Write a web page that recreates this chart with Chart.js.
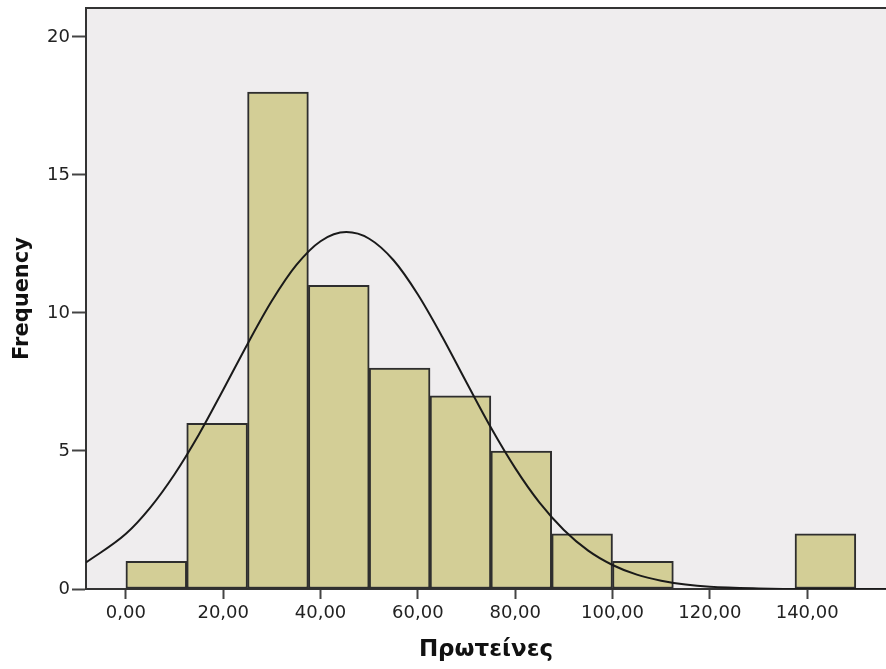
<!DOCTYPE html>
<html>
<head>
<meta charset="utf-8">
<script src="https://cdn.jsdelivr.net/npm/chart.js@4.4.1/dist/chart.umd.min.js"></script>
<style>
    html, body { margin: 0; padding: 0; background: #ffffff; }
    #wrap { width: 886px; height: 669px; }
</style>
</head>
<body>
<div id="wrap"><canvas id="hist"></canvas></div>
<script>
// histogram bins (Πρωτείνες), width 12.5
const binCenters = [6.25, 18.75, 31.25, 43.75, 56.25, 68.75, 81.25, 93.75, 106.25, 118.75, 131.25, 143.75];
const binCounts = [1, 6, 18, 11, 8, 7, 5, 2, 1, 0, 0, 2];

// normal curve
const curveX = [-8.2, 0, 5, 10, 15, 20, 25, 30, 35, 40, 45.3, 50, 55, 60, 65, 70, 75, 80, 85, 90, 95, 100, 105, 110, 115, 120, 130, 140, 156.2];
const curveY = [0.96, 2.0, 2.95, 4.16, 5.6, 7.22, 8.88, 10.44, 11.73, 12.6, 12.93, 12.69, 11.91, 10.67, 9.14, 7.48, 5.85, 4.38, 3.13, 2.14, 1.39, 0.87, 0.52, 0.3, 0.16, 0.08, 0.02, 0.0, 0.0];

// axis ticks
const xTicks = [0, 20, 40, 60, 80, 100, 120, 140];
const yTicks = [0, 5, 10, 15, 20];

Chart.defaults.font.family = "'DejaVu Sans', Verdana, sans-serif";

const plotBackground = {
    id: "plotBackground",
    beforeDraw(chart) {
        const ctx = chart.ctx;
        const a = chart.chartArea;
        ctx.save();
        ctx.fillStyle = "#ffffff";
        ctx.fillRect(0, 0, chart.width, chart.height);
        ctx.fillStyle = "#efedee";
        ctx.fillRect(a.left, a.top, a.right - a.left, a.bottom - a.top);
        ctx.restore();
    },
    afterDraw(chart) {
        // top frame line
        const ctx = chart.ctx;
        const a = chart.chartArea;
        ctx.save();
        ctx.strokeStyle = "#333333";
        ctx.lineWidth = 2;
        ctx.beginPath();
        ctx.moveTo(a.left - 1, a.top);
        ctx.lineTo(a.right, a.top);
        ctx.stroke();
        ctx.restore();
    },
};

const fmt = (v) => v.toFixed(2).replace(".", ",");

const ctx = document.getElementById("hist").getContext("2d");
const chart = new Chart(ctx, {
    type: "bar",
    data: {
        datasets: [
            {
                type: "line",
                data: curveX.map((x, i) => ({ x: x, y: curveY[i] })),
                borderColor: "#1a1a1a",
                borderWidth: 2,
                pointRadius: 0,
                fill: false,
                cubicInterpolationMode: "monotone",
                order: 0,
            },
            {
                type: "bar",
                data: binCenters.map((x, i) => ({ x: x, y: binCounts[i] })),
                backgroundColor: "#d3ce96",
                borderColor: "#2e2e2e",
                borderWidth: 2,
                borderSkipped: false,
                barPercentage: 1,
                categoryPercentage: 1,
                order: 1,
            },
        ],
    },
    options: {
        responsive: true,
        maintainAspectRatio: false,
        animation: false,
        layout: {
            padding: { top: 8, right: 0, left: 0, bottom: 0 },
        },
        plugins: {
            legend: { display: false },
            tooltip: { enabled: false },
        },
        scales: {
            x: {
                type: "linear",
                min: -8.2,
                max: 156.2,
                offset: false,
                afterBuildTicks: (scale) => {
                    scale.ticks = xTicks.map((v) => ({ value: v }));
                },
                afterFit: (scale) => {
                    scale.height = 80;
                    scale.paddingLeft = 0;
                    scale.paddingRight = 0;
                },
                grid: {
                    offset: false,
                    drawOnChartArea: false,
                    drawTicks: true,
                    tickLength: 10,
                    tickWidth: 2,
                    tickColor: "#444444",
                },
                border: { display: true, color: "#333333", width: 2 },
                ticks: {
                    color: "#222222",
                    font: { size: 18 },
                    padding: 4,
                    maxRotation: 0,
                    autoSkip: false,
                    callback: (v) => fmt(v),
                },
                title: {
                    display: true,
                    text: "Πρωτείνες",
                    color: "#111111",
                    font: { size: 23, weight: "bold" },
                    padding: { top: 0, bottom: 5 },
                },
            },
            y: {
                min: 0,
                max: 21.05,
                afterBuildTicks: (scale) => {
                    scale.ticks = yTicks.map((v) => ({ value: v }));
                },
                afterFit: (scale) => {
                    scale.width = 86;
                    scale.paddingTop = 0;
                    scale.paddingBottom = 0;
                },
                grid: {
                    drawOnChartArea: false,
                    drawTicks: true,
                    tickLength: 14,
                    tickWidth: 2,
                    tickColor: "#444444",
                },
                border: { display: true, color: "#333333", width: 2 },
                ticks: {
                    color: "#222222",
                    font: { size: 18 },
                    padding: 2,
                    autoSkip: false,
                },
                title: {
                    display: true,
                    text: "Frequency",
                    color: "#111111",
                    font: { size: 21, weight: "bold" },
                    padding: { top: 10, bottom: 0 },
                },
            },
        },
    },
    plugins: [plotBackground],
});
</script>
</body>
</html>
